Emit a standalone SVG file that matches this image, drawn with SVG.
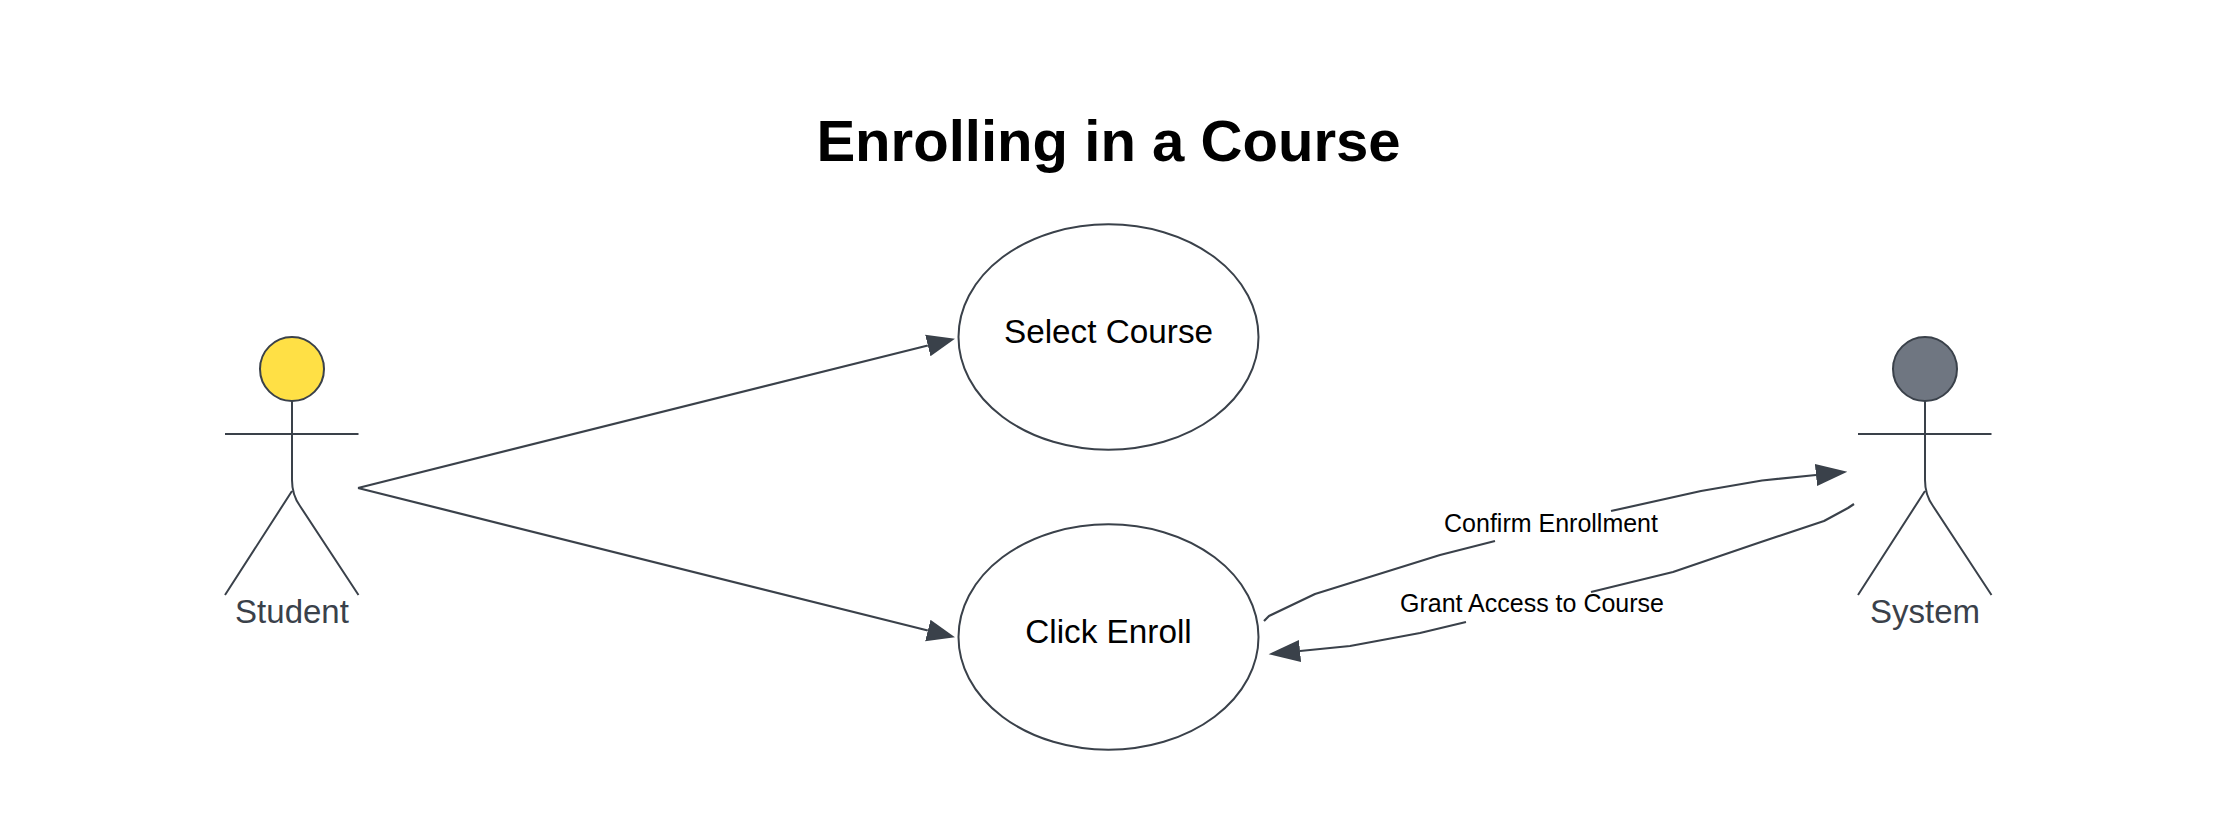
<svg xmlns="http://www.w3.org/2000/svg" width="2216" height="825" viewBox="0 0 2216 825">
<style>
text{font-family:"Liberation Sans",Arial,sans-serif;text-anchor:middle}
.s{fill:none;stroke:#3a414a;stroke-width:2}
.u{fill:#fff;stroke:#3a414a;stroke-width:2}
.uc{font-size:33.3px;fill:#000}
.ac{font-size:33px;fill:#3a414a}
.lb{font-size:25px;fill:#000}
.c{fill:none;stroke:#3a414a;stroke-width:2.2;stroke-linejoin:round}
</style>
<defs>
<marker id="ah" markerUnits="userSpaceOnUse" markerWidth="33" markerHeight="24" viewBox="0 0 33 24" refX="0" refY="12" orient="auto"><path d="M0,1 L31.5,12 L0,23 Z" fill="#3a414a"/></marker>
<marker id="ahs" markerUnits="userSpaceOnUse" markerWidth="30" markerHeight="24" viewBox="0 0 30 24" refX="0" refY="12" orient="auto"><path d="M0,1 L28,12 L0,23 Z" fill="#3a414a"/></marker>
</defs>
<rect width="2216" height="825" fill="#fff"/>
<g id="title"><text x="1108.5" y="161" font-size="58.1" font-weight="bold" fill="#000">Enrolling in a Course</text></g>
<g id="student">
<circle cx="292" cy="369" r="32" fill="#ffe045" stroke="#3a414a" stroke-width="2"/>
<path class="s" d="M292,401V480Q292,495 300,506L358.5,595M225,434H358.5M292,491L225,595"/>
<text class="ac" x="292" y="623">Student</text>
</g>
<g id="system">
<circle cx="1925" cy="369" r="32" fill="#6f7681" stroke="#3a414a" stroke-width="2"/>
<path class="s" d="M1925,401V480Q1925,495 1933,506L1991.5,595M1858,434H1991.5M1925,491L1858,595"/>
<text class="ac" x="1925" y="623">System</text>
</g>
<g id="select-course">
<ellipse class="u" cx="1108.5" cy="337" rx="150" ry="112.7"/>
<text class="uc" x="1108.5" y="343">Select Course</text>
</g>
<g id="click-enroll">
<ellipse class="u" cx="1108.5" cy="637" rx="150" ry="112.7"/>
<text class="uc" x="1108.5" y="643">Click Enroll</text>
</g>
<g id="connectors">
<path class="c" marker-end="url(#ahs)" d="M358,488L927.8,345.5"/>
<path class="c" marker-end="url(#ahs)" d="M358,488L927.8,630.5"/>
<path class="c" marker-end="url(#ah)" d="M1264,621L1269,616L1315,594L1440,555L1495,541M1611,511L1701,491L1762,480.5L1816,475"/>
<path class="c" marker-end="url(#ah)" d="M1854,504L1848,508L1824,521L1758,543L1673,572L1591,592M1466,622L1420,633L1350,646L1300,651"/>
</g>
<g id="labels">
<text class="lb" x="1551" y="532">Confirm Enrollment</text>
<text class="lb" x="1532" y="612">Grant Access to Course</text>
</g>
</svg>
